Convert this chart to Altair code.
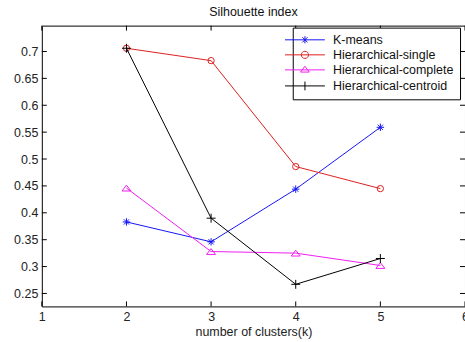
import altair as alt
import pandas as pd

# Silhouette index per number of clusters, one list per method
clusters = [2, 3, 4, 5]
kmeans = [0.383, 0.346, 0.444, 0.559]
single = [0.706, 0.683, 0.486, 0.445]
complete = [0.446, 0.328, 0.325, 0.302]
centroid = [0.706, 0.390, 0.267, 0.315]

series_names = ["K-means", "Hierarchical-single", "Hierarchical-complete", "Hierarchical-centroid"]
series_colors = ["#1414f5", "#dc1f1f", "#f01ef0", "#000000"]

x_ticks = [1, 2, 3, 4, 5, 6]
y_ticks = [0.25, 0.3, 0.35, 0.4, 0.45, 0.5, 0.55, 0.6, 0.65, 0.7]

FONT = "Liberation Sans"
W, H = 425, 282

rows = []
for name, vals in zip(series_names, [kmeans, single, complete, centroid]):
    for k, v in zip(clusters, vals):
        rows.append({"series": name, "k": k, "value": v})
df = pd.DataFrame(rows)

x_scale = alt.Scale(domain=[1, 6], nice=False, zero=False)
y_scale = alt.Scale(domain=[0.2259, 0.7481], nice=False, zero=False)
color_scale = alt.Scale(domain=series_names, range=series_colors)

x_axis = alt.Axis(values=x_ticks, format="d", title="number of clusters(k)",
                  labelFlush=False, labelOverlap=False, labelPadding=4,
                  titlePadding=3, ticks=False, tickSize=0, domain=False, grid=False)
y_axis = alt.Axis(values=y_ticks, format=".2~f", title=None,
                  labelFlush=False, labelOverlap=False, labelPadding=4,
                  ticks=False, tickSize=0, domain=False, grid=False)


def xq(field):
    return alt.X(field, scale=x_scale, axis=x_axis)


def yq(field):
    return alt.Y(field, scale=y_scale, axis=y_axis)


base = alt.Chart(df)

# marker glyphs drawn at each data point (unit-sized SVG paths)
marker_shapes = [
    "M-1,0L1,0M0,-1L0,1M-0.7,-0.7L0.7,0.7M-0.7,0.7L0.7,-0.7",
    "circle",
    "M0,-0.65L1,0.65L-1,0.65Z",
    "M-1,0L1,0M0,-1L0,1",
]
marker_sizes = [56, 40, 81, 81]

series_layers = []
for name, col, shp, sz in zip(series_names, series_colors, marker_shapes, marker_sizes):
    one = base.transform_filter(alt.datum.series == name)
    series_layers.append(
        one.mark_line(color=col, strokeWidth=1).encode(
            x=xq("k:Q"), y=yq("value:Q"), order="k:Q")
    )
    series_layers.append(
        one.mark_point(shape=shp, size=sz, filled=False, color=col, strokeWidth=1, opacity=1)
        .encode(x=xq("k:Q"), y=yq("value:Q"))
    )

# legend glyphs: a short line segment with the series marker on it
legend_shapes = [
    "M-5,0L5,0M0,-0.9L0,0.9M-0.65,-0.65L0.65,0.65M-0.65,0.65L0.65,-0.65",
    "M-5,0L5,0M-0.9,0A0.9,0.9 0 1 0 0.9,0A0.9,0.9 0 1 0 -0.9,0",
    "M-5,0L5,0M0,-0.9L1.1,0.55L-1.1,0.55Z",
    "M-5,0L5,0M0,-1.1L0,1.1",
]

legend_kw = dict(
    title=None, orient="none", legendX=252, legendY=2,
    fillColor="white", strokeColor="black", padding=6,
    labelFont=FONT, labelFontSize=12.5, labelColor="#111111",
    symbolStrokeWidth=1, symbolOpacity=1, symbolSize=64,
    symbolOffset=0, labelOffset=22, rowPadding=2.1,
)

# carries only the legend; its own points are not drawn
legend_layer = base.transform_filter(alt.datum.k < 0).mark_point(
    filled=False, size=64, strokeWidth=1
).encode(
    x=xq("k:Q"),
    y=yq("value:Q"),
    color=alt.Color("series:N", scale=color_scale, legend=alt.Legend(**legend_kw)),
    shape=alt.Shape("series:N", scale=alt.Scale(domain=series_names, range=legend_shapes),
                    legend=alt.Legend(**legend_kw)),
)

# inward tick marks on all four sides of the box
xt = alt.Chart(pd.DataFrame({"k": x_ticks}))
yt = alt.Chart(pd.DataFrame({"value": y_ticks}))
tick_style = dict(color="black", strokeWidth=1)
ticks_bottom = xt.mark_rule(**tick_style).encode(
    x=xq("k:Q"), y=alt.value(H - 5), y2=alt.value(H))
ticks_top = xt.mark_rule(**tick_style).encode(
    x=xq("k:Q"), y=alt.value(0), y2=alt.value(5))
ticks_left = yt.mark_rule(**tick_style).encode(
    y=yq("value:Q"), x=alt.value(0), x2=alt.value(5))
ticks_right = yt.mark_rule(**tick_style).encode(
    y=yq("value:Q"), x=alt.value(W - 5), x2=alt.value(W))

chart = alt.layer(
    *series_layers, legend_layer,
    ticks_bottom, ticks_top, ticks_left, ticks_right,
).properties(
    width=W, height=H,
    title=alt.Title("Silhouette index", font=FONT, fontSize=12.5, fontWeight="normal",
                    color="#111111", offset=7, anchor="middle"),
    padding={"left": 42, "top": 25, "right": 0, "bottom": 35},
    autosize=alt.AutoSizeParams(type="none"),
    background="white",
).configure_view(
    stroke="black", strokeWidth=1,
).configure_axis(
    labelFont=FONT, labelFontSize=12.5, labelColor="#222222",
    titleFont=FONT, titleFontSize=12.5, titleFontWeight="normal", titleColor="#222222",
)

chart.save("out.html", embed_options={"renderer": "svg", "actions": False})
